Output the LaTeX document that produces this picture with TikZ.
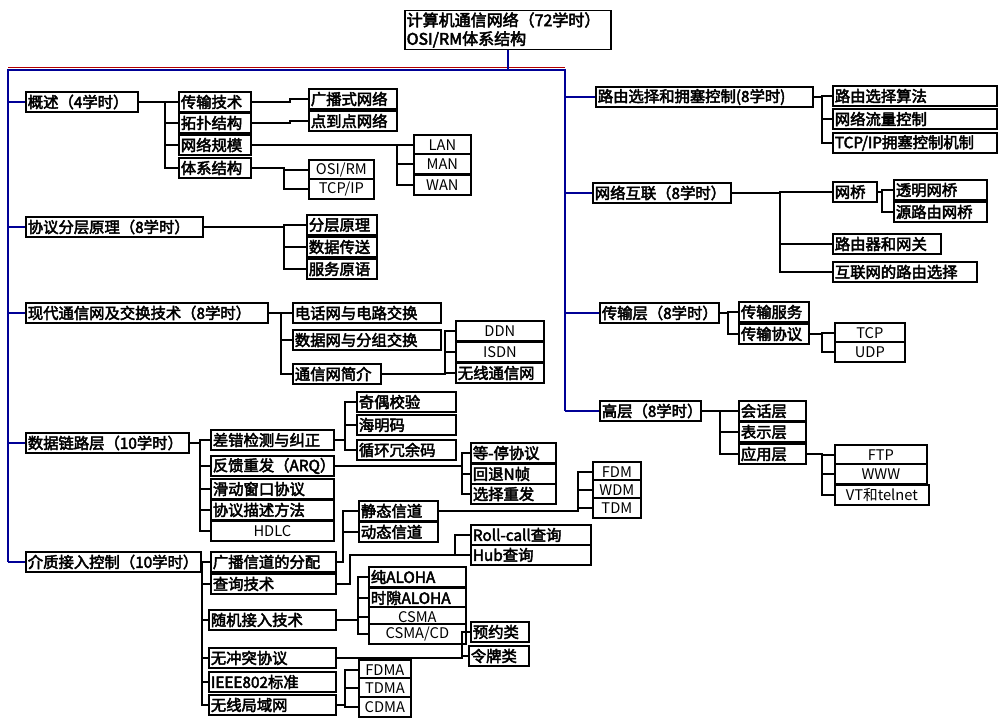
\documentclass[tikz,border=0pt]{standalone}
\usepackage{fontspec}
\setmainfont{Noto Sans CJK SC}[AutoFakeBold=3]
\definecolor{navy}{RGB}{0,0,150}
\tikzset{
  box/.style={draw,line width=1.3pt,fill=white,anchor=west,inner sep=1.5pt,
    minimum height=14.5pt,align=left,font=\fontsize{11.5}{12}\selectfont\bfseries},
  pbox/.style={box,align=center,font=\fontsize{11}{12}\selectfont},
  link/.style={line width=0.8pt},
  trunk/.style={line width=2.2pt,navy}
}
% box: [style] name, left x, right x, centre y, text
\newcommand\bx[6][box]{\node[#1,text width={(#4-#3)*0.75pt-3pt}] (#2) at (#3,#5) {#6};}
% elbow link from parent to child, bend at x
\newcommand\fk[3]{\coordinate (fx) at (#3,0); \draw[link] (#1.east) -- (fx |- #1.east) |- (#2.west);}
\begin{document}
\begin{tikzpicture}[x=0.75pt,y=-0.75pt]
    \useasboundingbox (0,0) rectangle (1004,720);
    \coordinate (lbus) at (8,0);
    \coordinate (rbus) at (565,0);
    % root and the two buses
    \node[box,anchor=center,text width=152pt,font=\fontsize{12}{14}\selectfont\bfseries] (root) at (508,30) {计算机通信网络（72学时）\\OSI/RM体系结构};
    \draw[red!70!black,line width=0.6pt] (8,67.5) -- (565,67.5);
    \draw[trunk] (root.south) -- (508,70);
    \draw[trunk] (8,70) -- (565,70);
    \draw[trunk] (8,69) -- (8,562);
    \draw[trunk] (565,69) -- (565,411);

    % left: chapter boxes
    \bx{gs}{25}{137}{102}{概述（4学时）}
    \bx{xy}{25}{202}{227}{协议分层原理（8学时）}
    \bx{xd}{25}{267}{313}{现代通信网及交换技术（8学时）}
    \bx{sj}{25}{188}{443}{数据链路层（10学时）}
    \bx{jz}{25}{200}{562}{介质接入控制（10学时）}
    \foreach \n in {gs,xy,xd,sj,jz} {\draw[trunk] (lbus |- \n.west) -- (\n.west);}

    % right: chapter boxes
    \bx{ly}{595}{812}{97}{路由选择和拥塞控制(8学时)}
    \bx{hl}{592}{730}{193}{网络互联（8学时）}
    \bx{cs}{599}{718}{313}{传输层（8学时）}
    \bx{gc}{599}{700}{411}{高层（8学时）}
    \foreach \n in {ly,hl,cs,gc} {\draw[trunk] (rbus |- \n.west) -- (\n.west);}

    % 概述
    \bx{csjs}{178}{250}{102}{传输技术}
    \bx{tp}{178}{250}{123}{拓扑结构}
    \bx{gm}{178}{250}{145}{网络规模}
    \bx{tx}{178}{250}{168}{体系结构}
    \foreach \c in {csjs,tp,gm,tx} {\fk{gs}{\c}{165}}
    \bx{gb}{308}{396}{99}{广播式网络}
    \bx{dd}{308}{396}{121}{点到点网络}
    \fk{csjs}{gb}{290} \fk{tp}{dd}{290}
    \bx[pbox]{lan}{413}{470}{145}{LAN}
    \bx[pbox]{man}{413}{470}{164}{MAN}
    \bx[pbox]{wan}{413}{470}{185}{WAN}
    \foreach \c in {lan,man,wan} {\fk{gm}{\c}{397}}
    \bx[pbox]{osi}{308}{373}{170}{OSI/RM}
    \bx[pbox]{tcpip}{308}{373}{189}{TCP/IP}
    \foreach \c in {osi,tcpip} {\fk{tx}{\c}{284}}

    % 协议分层原理
    \bx{fc}{306}{376}{225}{分层原理}
    \bx{sc}{306}{376}{247}{数据传送}
    \bx{fw}{306}{376}{269}{服务原语}
    \foreach \c in {fc,sc,fw} {\fk{xy}{\c}{284}}

    % 现代通信网
    \bx{dh}{292}{440}{313}{电话网与电路交换}
    \bx{sjw}{292}{440}{340}{数据网与分组交换}
    \bx{jj}{292}{380}{374}{通信网简介}
    \foreach \c in {dh,sjw,jj} {\fk{xd}{\c}{281}}
    \bx[pbox]{ddn}{455}{543}{331}{DDN}
    \bx[pbox]{isdn}{455}{543}{352}{ISDN}
    \bx{wx}{455}{543}{373}{无线通信网}
    \foreach \c in {ddn,isdn,wx} {\fk{jj}{\c}{445}}

    % 数据链路层
    \bx{cc}{210}{333}{440}{差错检测与纠正}
    \bx{arq}{210}{333}{466}{反馈重发（ARQ）}
    \bx{hd}{210}{333}{489}{滑动窗口协议}
    \bx{ms}{210}{333}{510}{协议描述方法}
    \bx[pbox]{hdlc}{210}{333}{531}{HDLC}
    \foreach \c in {cc,arq,hd,ms,hdlc} {\fk{sj}{\c}{200}}
    \bx{jo}{356}{455}{402}{奇偶校验}
    \bx{hm}{356}{455}{425}{海明码}
    \bx{xh}{356}{455}{450}{循环冗余码}
    \foreach \c in {jo,hm,xh} {\fk{cc}{\c}{345}}
    \bx{dt}{470}{555}{453}{等-停协议}
    \bx{ht}{470}{555}{474}{回退N帧}
    \bx{xz}{470}{555}{494}{选择重发}
    \foreach \c in {dt,ht,xz} {\fk{arq}{\c}{462}}

    % 介质接入控制
    \bx{gbfp}{210}{335}{562}{广播信道的分配}
    \bx{cx}{210}{335}{584}{查询技术}
    \bx{sjjr}{208}{335}{620}{随机接入技术}
    \bx{wct}{208}{335}{658}{无冲突协议}
    \bx{ieee}{208}{335}{682}{IEEE802标准}
    \bx{wxj}{208}{335}{705}{无线局域网}
    \foreach \c in {gbfp,cx,sjjr,wct,ieee,wxj} {\fk{jz}{\c}{202}}
    \bx{jt}{358}{437}{511}{静态信道}
    \bx{dtx}{358}{437}{532}{动态信道}
    \foreach \c in {jt,dtx} {\fk{gbfp}{\c}{343}}
    \bx[pbox]{fdm}{592}{640}{472}{FDM}
    \bx[pbox]{wdm}{592}{640}{490}{WDM}
    \bx[pbox]{tdm}{592}{640}{508}{TDM}
    \foreach \c in {fdm,wdm,tdm} {\fk{jt}{\c}{578}}
    \bx{roll}{470}{590}{535}{Roll-call查询}
    \bx{hub}{470}{590}{555}{Hub查询}
    \coordinate (cxa) at (350,0);
    \draw[link] (cx.east) -- (cxa |- cx.east) |- (hub.west);
    \coordinate (rla) at (455,0);
    \draw[link] (rla |- hub.west) |- (roll.west);
    \bx{chun}{368}{465}{577}{纯ALOHA}
    \bx{sx}{368}{465}{598}{时隙ALOHA}
    \bx[pbox]{csma}{368}{465}{617}{CSMA}
    \bx[pbox]{cd}{368}{465}{634}{CSMA/CD}
    \foreach \c in {chun,sx,csma,cd} {\fk{sjjr}{\c}{358}}
    \bx{yy}{470}{528}{632}{预约类}
    \bx{lp}{468}{528}{656}{令牌类}
    \foreach \c in {yy,lp} {\fk{wct}{\c}{462}}
    \bx[pbox]{fdma}{358}{410}{670}{FDMA}
    \bx[pbox]{tdma}{358}{410}{688}{TDMA}
    \bx[pbox]{cdma}{358}{410}{707}{CDMA}
    \foreach \c in {fdma,tdma,cdma} {\fk{wxj}{\c}{345}}

    % 路由选择和拥塞控制
    \bx{sf}{832}{996}{96}{路由选择算法}
    \bx{ll}{832}{996}{119}{网络流量控制}
    \bx{yz}{832}{996}{143}{TCP/IP拥塞控制机制}
    \foreach \c in {sf,ll,yz} {\fk{ly}{\c}{822}}

    % 网络互联
    \bx{wq}{832}{876}{192}{网桥}
    \bx{lyq}{832}{940}{244}{路由器和网关}
    \bx{hlw}{832}{976}{272}{互联网的路由选择}
    \foreach \c in {wq,lyq,hlw} {\fk{hl}{\c}{780}}
    \bx{tm}{893}{986}{190}{透明网桥}
    \bx{yl}{893}{986}{212}{源路由网桥}
    \foreach \c in {tm,yl} {\fk{wq}{\c}{882}}

    % 传输层
    \bx{fu}{738}{808}{312}{传输服务}
    \bx{xi}{738}{808}{334}{传输协议}
    \foreach \c in {fu,xi} {\fk{cs}{\c}{728}}
    \bx[pbox]{tcp}{834}{904}{333}{TCP}
    \bx[pbox]{udp}{834}{904}{352}{UDP}
    \foreach \c in {tcp,udp} {\fk{xi}{\c}{822}}

    % 高层
    \bx{hh}{738}{805}{411}{会话层}
    \bx{bs}{738}{805}{432}{表示层}
    \bx{yyc}{738}{805}{454}{应用层}
    \foreach \c in {hh,bs,yyc} {\fk{gc}{\c}{720}}
    \bx[pbox]{ftp}{834}{926}{455}{FTP}
    \bx[pbox]{www}{834}{926}{474}{WWW}
    \bx[pbox]{vt}{834}{928}{495}{VT和telnet}
    \foreach \c in {ftp,www,vt} {\fk{yyc}{\c}{822}}
\end{tikzpicture}
\end{document}
